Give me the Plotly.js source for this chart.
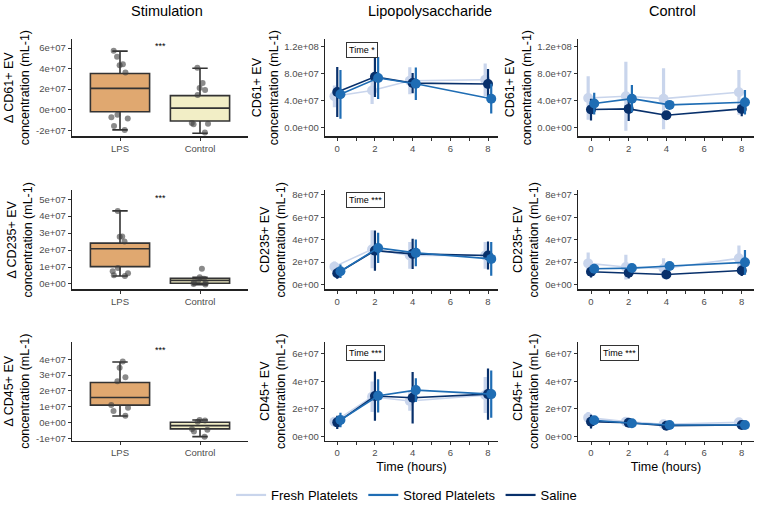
<!DOCTYPE html>
<html><head><meta charset="utf-8">
<script src="https://cdn.plot.ly/plotly-3.0.1.min.js"></script>
<style>html,body{margin:0;padding:0;background:#fff}#chart{width:760px;height:510px}</style>
</head><body><div id="chart"></div>
<script>
// ---------------- DATA ----------------
const timeHours = [0, 2, 4, 8];
const seriesNames = ['Fresh Platelets', 'Stored Platelets', 'Saline'];
const stimCategories = ['LPS', 'Control'];
const columnTitles = ['Stimulation', 'Lipopolysaccharide', 'Control'];
const stimYTitles = ['Δ CD61+ EV<br>concentration (mL-1)', 'Δ CD235+ EV<br>concentration (mL-1)', 'Δ CD45+ EV<br>concentration (mL-1)'];
const timeYTitles = ['CD61+ EV<br>concentration (mL-1)', 'CD235+ EV<br>concentration (mL-1)', 'CD45+ EV<br>concentration (mL-1)'];

// Stimulation box statistics, order [LPS, Control]
const cd61Q1 = [-0.20e7, -1.10e7];
const cd61Median = [2.08e7, 0.15e7];
const cd61Q3 = [3.52e7, 1.37e7];
const cd61Low = [-1.97e7, -2.29e7];
const cd61High = [5.70e7, 4.04e7];
const cd61LpsPoints = [5.75e7, 5.16e7, 4.43e7, 4.33e7, 3.62e7, -0.49e7, -0.75e7, -0.87e7, -1.60e7, -1.97e7];
const cd61CtrlPoints = [4.08e7, 2.60e7, 2.12e7, 1.92e7, 1.44e7, -1.30e7, -1.36e7, -1.42e7, -2.23e7];

const cd235Q1 = [1.02e7, 0.04e7];
const cd235Median = [2.08e7, 0.20e7];
const cd235Q3 = [2.41e7, 0.33e7];
const cd235Low = [0.47e7, -0.04e7];
const cd235High = [4.31e7, 0.39e7];
const cd235LpsPoints = [4.31e7, 2.80e7, 2.78e7, 2.50e7, 0.94e7, 0.75e7, 0.63e7, 0.51e7, 0.47e7];
const cd235CtrlPoints = [0.90e7, 0.39e7, 0.30e7, 0.20e7, 0.10e7, 0.05e7, -0.04e7, 0.00e7];

const cd45Q1 = [1.10e7, -0.41e7];
const cd45Median = [1.58e7, -0.20e7];
const cd45Q3 = [2.53e7, 0.01e7];
const cd45Low = [0.41e7, -0.90e7];
const cd45High = [3.83e7, 0.16e7];
const cd45LpsPoints = [3.87e7, 3.47e7, 2.87e7, 2.61e7, 1.10e7, 0.93e7, 0.72e7, 0.43e7];
const cd45CtrlPoints = [0.16e7, 0.12e7, 0.05e7, -0.41e7, -0.47e7, -0.58e7, -0.90e7];

// Time course means and SDs, order of series: Fresh, Stored, Saline
const cd61LpsFresh = [4.65e7, 5.50e7, 6.95e7, 7.10e7];
const cd61LpsFreshSd = [1.6e7, 2.0e7, 2.0e7, 2.4e7];
const cd61LpsStored = [4.95e7, 7.35e7, 6.50e7, 4.30e7];
const cd61LpsStoredSd = [3.6e7, 3.1e7, 2.4e7, 2.2e7];
const cd61LpsSaline = [5.29e7, 7.54e7, 6.60e7, 6.47e7];
const cd61LpsSalineSd = [3.7e7, 3.0e7, 1.5e7, 2.2e7];

const cd61CtrlFresh = [4.40e7, 4.65e7, 4.30e7, 5.24e7];
const cd61CtrlFreshSd = [3.2e7, 5.1e7, 4.5e7, 3.3e7];
const cd61CtrlStored = [3.58e7, 4.30e7, 3.38e7, 3.77e7];
const cd61CtrlStoredSd = [1.6e7, 2.0e7, 0.3e7, 1.8e7];
const cd61CtrlSaline = [2.69e7, 2.79e7, 1.86e7, 2.79e7];
const cd61CtrlSalineSd = [1.6e7, 1.8e7, 0.3e7, 1.1e7];

const cd235LpsFresh = [1.60e7, 3.15e7, 2.60e7, 2.60e7];
const cd235LpsFreshSd = [0.45e7, 1.7e7, 1.2e7, 1.2e7];
const cd235LpsStored = [1.19e7, 3.27e7, 2.83e7, 2.29e7];
const cd235LpsStoredSd = [0.6e7, 1.35e7, 1.2e7, 1.5e7];
const cd235LpsSaline = [1.01e7, 3.03e7, 2.74e7, 2.59e7];
const cd235LpsSalineSd = [0.5e7, 1.8e7, 1.35e7, 1.25e7];

const cd235CtrlFresh = [1.89e7, 1.56e7, 1.44e7, 2.34e7];
const cd235CtrlFreshSd = [0.98e7, 1.1e7, 0.9e7, 1.15e7];
const cd235CtrlStored = [1.41e7, 1.47e7, 1.65e7, 1.98e7];
const cd235CtrlStoredSd = [0.2e7, 0.3e7, 0.3e7, 1.1e7];
const cd235CtrlSaline = [1.14e7, 1.05e7, 0.90e7, 1.26e7];
const cd235CtrlSalineSd = [0.5e7, 0.5e7, 0.3e7, 0.5e7];

const cd45LpsFresh = [1.08e7, 2.88e7, 2.57e7, 3.00e7];
const cd45LpsFreshSd = [0.3e7, 1.1e7, 0.7e7, 1.3e7];
const cd45LpsStored = [1.20e7, 2.95e7, 3.36e7, 3.07e7];
const cd45LpsStoredSd = [0.52e7, 1.2e7, 0.86e7, 1.7e7];
const cd45LpsSaline = [1.03e7, 2.93e7, 2.81e7, 3.07e7];
const cd45LpsSalineSd = [0.48e7, 1.78e7, 1.86e7, 1.85e7];

const cd45CtrlFresh = [1.37e7, 1.08e7, 0.89e7, 1.03e7];
const cd45CtrlFreshSd = [0.4e7, 0.2e7, 0.2e7, 0.2e7];
const cd45CtrlStored = [1.18e7, 0.96e7, 0.84e7, 0.84e7];
const cd45CtrlStoredSd = [0.2e7, 0.15e7, 0.1e7, 0.1e7];
const cd45CtrlSaline = [1.08e7, 1.00e7, 0.79e7, 0.84e7];
const cd45CtrlSalineSd = [0.5e7, 0.2e7, 0.1e7, 0.1e7];

// Tick values / labels
const stimTickVals = [[-2e7, 0, 2e7, 4e7, 6e7], [0, 1e7, 2e7, 3e7, 4e7, 5e7], [-1e7, 0, 1e7, 2e7, 3e7, 4e7]];
const stimTickText = [['-2e+07', '0e+00', '2e+07', '4e+07', '6e+07'], ['0e+00', '1e+07', '2e+07', '3e+07', '4e+07', '5e+07'], ['-1e+07', '0e+00', '1e+07', '2e+07', '3e+07', '4e+07']];
const timeTickVals = [[0, 4e7, 8e7, 1.2e8], [0, 2e7, 4e7, 6e7, 8e7], [0, 2e7, 4e7, 6e7]];
const timeTickText = [['0.0e+00', '4.0e+07', '8.0e+07', '1.2e+08'], ['0e+00', '2e+07', '4e+07', '6e+07', '8e+07'], ['0e+00', '2e+07', '4e+07', '6e+07']];
const signifStim = ['***', '***', '***'];
const signifLps = ['Time *', 'Time ***', 'Time ***'];
const signifCtrl = [null, null, 'Time ***'];

// ---------------- STYLE ----------------
const W = 760, H = 510;
const FONT = 'Liberation Sans, Arial, sans-serif';
const seriesColors = ['#C9D5EC', '#1F6DB4', '#08306B'];
const seriesOffsets = [-0.15, 0.17, 0.0];
const drawOrder = [0, 2, 1];
const errThickness = [3.2, 2.2, 2.2];
const boxFills = ['#E0A870', '#F2EEC6'];
const colPx = [[72, 248], [325, 498], [578, 754]];
const rowPx = [[39, 137], [191, 290.5], [343, 442.5]];
const stimRanges = [[-2.61e7, 6.9e7], [-0.32e7, 5.53e7], [-1.16e7, 5.12e7]];
const timeRanges = [[-1.28e7, 1.313e8], [-0.43e7, 8.42e7], [-0.3e7, 6.86e7]];
const timeXRanges = [[-0.65, 8.53], [-0.69, 8.65]];
const stimSignifY = [6.2e7, 5.1e7, 4.6e7];
const timeSignifPos = [[1.31, 1.15e8], [1.52, 7.55e7], [1.52, 6.07e7]];

const boxStats = [
  [cd61Q1, cd61Median, cd61Q3, cd61Low, cd61High, cd61LpsPoints, cd61CtrlPoints],
  [cd235Q1, cd235Median, cd235Q3, cd235Low, cd235High, cd235LpsPoints, cd235CtrlPoints],
  [cd45Q1, cd45Median, cd45Q3, cd45Low, cd45High, cd45LpsPoints, cd45CtrlPoints]
];
const lpsSeries = [
  [[cd61LpsFresh, cd61LpsFreshSd], [cd61LpsStored, cd61LpsStoredSd], [cd61LpsSaline, cd61LpsSalineSd]],
  [[cd235LpsFresh, cd235LpsFreshSd], [cd235LpsStored, cd235LpsStoredSd], [cd235LpsSaline, cd235LpsSalineSd]],
  [[cd45LpsFresh, cd45LpsFreshSd], [cd45LpsStored, cd45LpsStoredSd], [cd45LpsSaline, cd45LpsSalineSd]]
];
const ctrlSeries = [
  [[cd61CtrlFresh, cd61CtrlFreshSd], [cd61CtrlStored, cd61CtrlStoredSd], [cd61CtrlSaline, cd61CtrlSalineSd]],
  [[cd235CtrlFresh, cd235CtrlFreshSd], [cd235CtrlStored, cd235CtrlStoredSd], [cd235CtrlSaline, cd235CtrlSalineSd]],
  [[cd45CtrlFresh, cd45CtrlFreshSd], [cd45CtrlStored, cd45CtrlStoredSd], [cd45CtrlSaline, cd45CtrlSalineSd]]
];

const traces = [];
const layout = {
  width: W, height: H, margin: {l: 0, r: 0, t: 0, b: 0},
  paper_bgcolor: '#fff', plot_bgcolor: '#fff',
  font: {family: FONT, color: '#000'},
  boxmode: 'overlay', showlegend: true,
  legend: {orientation: 'h', x: 0.535, xanchor: 'center', y: 1 - 497 / H, yanchor: 'middle',
           font: {size: 13, family: FONT, color: '#000'}, traceorder: 'normal', itemwidth: 30},
  annotations: []
};

function axId(r, c) { const k = r * 3 + c + 1; return k === 1 ? '' : String(k); }
function commonAxis() {
  return {showline: true, linecolor: '#222', linewidth: 1.2, ticks: 'outside', ticklen: 3, tickcolor: '#333',
          tickwidth: 1, showgrid: false, zeroline: false, tickfont: {size: 9.5, color: '#4D4D4D', family: FONT}};
}

for (let r = 0; r < 3; r++) {
  for (let c = 0; c < 3; c++) {
    const id = axId(r, c);
    const xa = commonAxis(), ya = commonAxis();
    xa.domain = [colPx[c][0] / W, colPx[c][1] / W];
    ya.domain = [1 - rowPx[r][1] / H, 1 - rowPx[r][0] / H];
    xa.anchor = 'y' + id; ya.anchor = 'x' + id;
    if (c === 0) {
      xa.type = 'category'; xa.categoryarray = stimCategories; xa.categoryorder = 'array';
      xa.range = [-0.6, 1.6];
      ya.range = stimRanges[r]; ya.tickvals = stimTickVals[r]; ya.ticktext = stimTickText[r];
      ya.title = {text: stimYTitles[r], font: {size: 12.5, family: FONT, color: '#000'}, standoff: 3};
    } else {
      xa.range = timeXRanges[c - 1]; xa.tickvals = [0, 2, 4, 6, 8];
      xa.minor = {tickvals: [1, 3, 5, 7], ticks: 'outside', ticklen: 3, tickcolor: '#333'};
      ya.range = timeRanges[r]; ya.tickvals = timeTickVals[r]; ya.ticktext = timeTickText[r];
      ya.title = {text: timeYTitles[r], font: {size: 12.5, family: FONT, color: '#000'}, standoff: 3};
      if (r === 2) xa.title = {text: 'Time (hours)', font: {size: 12.5, family: FONT, color: '#000'}, standoff: 4};
    }
    layout['xaxis' + id] = xa; layout['yaxis' + id] = ya;

    if (c === 0) {
      const st = boxStats[r];
      for (let k = 0; k < 2; k++) {
        traces.push({type: 'box', xaxis: 'x' + id, yaxis: 'y' + id, x: [stimCategories[k]],
          q1: [st[0][k]], median: [st[1][k]], q3: [st[2][k]], lowerfence: [st[3][k]], upperfence: [st[4][k]],
          fillcolor: boxFills[k], line: {color: '#333', width: 1.6}, width: 0.74, whiskerwidth: 0.26,
          boxpoints: false, showlegend: false, hoverinfo: 'skip'});
        const pts = st[5 + k];
        traces.push({type: 'box', xaxis: 'x' + id, yaxis: 'y' + id, x: pts.map(() => stimCategories[k]), y: pts,
          boxpoints: 'all', jitter: 0.35, pointpos: 0, width: 0.74,
          fillcolor: 'rgba(0,0,0,0)', line: {color: 'rgba(0,0,0,0)', width: 0},
          marker: {color: 'rgba(60,60,60,0.6)', size: 6}, showlegend: false, hoverinfo: 'skip'});
      }
      layout.annotations.push({xref: 'x' + id, yref: 'y' + id, x: 0.5, y: stimSignifY[r], text: signifStim[r],
        showarrow: false, font: {size: 9, family: FONT, color: '#000'}});
    } else {
      const data = c === 1 ? lpsSeries[r] : ctrlSeries[r];
      for (const s of drawOrder) {
        traces.push({type: 'scatter', mode: 'lines+markers', xaxis: 'x' + id, yaxis: 'y' + id,
          x: timeHours.map(t => t + seriesOffsets[s]), y: data[s][0],
          error_y: {type: 'data', array: data[s][1], visible: true, color: seriesColors[s], thickness: errThickness[s], width: 0},
          line: {color: seriesColors[s], width: 1.6}, marker: {color: seriesColors[s], size: 10},
          showlegend: false, hoverinfo: 'skip'});
      }
      const lbl = c === 1 ? signifLps[r] : signifCtrl[r];
      if (lbl) {
        layout.annotations.push({xref: 'x' + id, yref: 'y' + id, x: timeSignifPos[r][0], y: timeSignifPos[r][1],
          text: lbl, showarrow: false, font: {size: 9, family: FONT, color: '#000'},
          bgcolor: '#fff', bordercolor: '#333', borderwidth: 1, borderpad: 2});
      }
    }
  }
}

// legend entries
for (let s = 0; s < 3; s++) {
  traces.push({type: 'scatter', mode: 'lines', x: [null], y: [null], xaxis: 'x2', yaxis: 'y2',
    name: seriesNames[s], line: {color: seriesColors[s], width: 2.2}, showlegend: true, hoverinfo: 'skip'});
}

// column titles
const titleX = [167, 430, 672];
for (let c = 0; c < 3; c++) {
  layout.annotations.push({xref: 'paper', yref: 'paper', x: titleX[c] / W, y: 1 - 11 / H, text: columnTitles[c],
    showarrow: false, xanchor: 'center', yanchor: 'middle', font: {size: 14.5, family: FONT, color: '#000'}});
}

Plotly.newPlot('chart', traces, layout, {displayModeBar: false, staticPlot: true});
</script>
</body></html>
